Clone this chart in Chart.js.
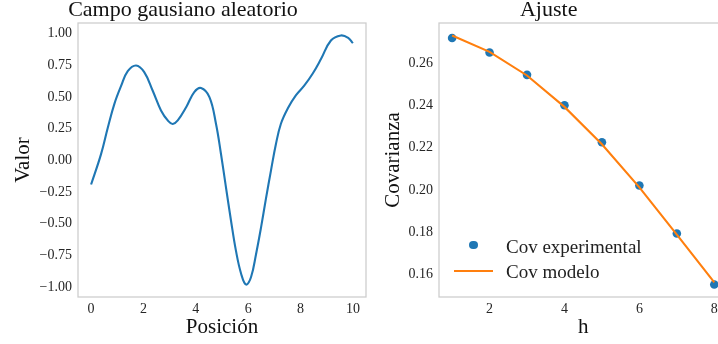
<!DOCTYPE html>
<html>
<head>
<meta charset="utf-8">
<title>Campo gausiano aleatorio / Ajuste</title>
<script src="https://cdn.jsdelivr.net/npm/chart.js@4.4.0/dist/chart.umd.min.js"></script>
<style>
  html, body { margin: 0; padding: 0; background: #fff; overflow: hidden; }
  #wrap { position: relative; width: 718px; height: 344px; overflow: hidden; }
  #leftChart { position: absolute; left: 0; top: 0; }
  #rightChart { position: absolute; left: 370px; top: 0; }
  .leg {
    position: absolute; left: 454px; padding-left: 52px;
    font-family: "Liberation Serif", "DejaVu Serif", serif;
    font-size: 19px; line-height: 25px; color: #222; white-space: nowrap;
  }
  .leg .dot {
    position: absolute; left: 15px; top: 7px; width: 8.6px; height: 8.6px;
    border-radius: 50%; background: #1f77b4;
  }
  .leg .line {
    position: absolute; left: 0; top: 11.5px; width: 39px; height: 2px;
    background: #ff7f0e;
  }
</style>
</head>
<body>
<div id="wrap">
  <canvas id="leftChart" width="380" height="344"></canvas>
  <canvas id="rightChart" width="370" height="344"></canvas>
  <div class="leg" style="top:233.5px"><span class="dot"></span>Cov experimental</div>
  <div class="leg" style="top:258.5px"><span class="line"></span>Cov modelo</div>
</div>
<script>
// campo gausiano
const posicion = [0, 0.38, 0.64, 0.89, 1.15, 1.40, 1.72, 2.03, 2.35, 2.67, 2.95, 3.12, 3.31, 3.63,
  3.94, 4.20, 4.52, 4.77, 4.96, 5.15, 5.34, 5.53, 5.73, 5.92, 6.11, 6.30, 6.49, 6.68, 6.87,
  7.06, 7.25, 7.51, 7.82, 8.14, 8.46, 8.78, 9.16, 9.54, 9.82, 10.0];
const valor = [-0.19, 0.05, 0.26, 0.447, 0.59, 0.705, 0.75, 0.697, 0.552, 0.395, 0.31, 0.288, 0.316, 0.42,
  0.54, 0.572, 0.50, 0.29, 0.053, -0.21, -0.47, -0.71, -0.894, -0.98, -0.92, -0.74, -0.53, -0.30, -0.08,
  0.13, 0.29, 0.41, 0.513, 0.59, 0.684, 0.80, 0.947, 0.987, 0.968, 0.926];
const xTicksLeft = [0, 2, 4, 6, 8, 10];
const yTicksLeft = [-1, -0.75, -0.5, -0.25, 0, 0.25, 0.5, 0.75, 1];

// ajuste de covarianza
const h = [1, 2, 3, 4, 5, 6, 7, 8];
const covExp = [0.2721, 0.2652, 0.2546, 0.2402, 0.2226, 0.2021, 0.1793, 0.1551];
const covModelo = [0.2733, 0.2655, 0.2543, 0.2394, 0.2217, 0.2012, 0.1788, 0.1561];
const xTicksRight = [2, 4, 6, 8];
const yTicksRight = [0.16, 0.18, 0.20, 0.22, 0.24, 0.26];

const SERIF = "'Liberation Serif', 'DejaVu Serif', serif";
const TEXT = "#262626";

function fmt(v) {
  return v.toFixed(2).replace("-", "\u2212");
}

// caja gris alrededor del area de datos
const frame = {
  id: "frame",
  beforeDatasetsDraw(chart) {
    const a = chart.chartArea;
    const ctx = chart.ctx;
    ctx.save();
    ctx.strokeStyle = "#cccccc";
    ctx.lineWidth = 1.25;
    ctx.strokeRect(a.left, a.top, a.right - a.left, a.bottom - a.top);
    ctx.restore();
  },
};

function xAxis(min, max, ticks, label, tickFmt) {
  return {
    type: "linear",
    min,
    max,
    grid: { display: false, drawTicks: false },
    border: { display: false },
    afterBuildTicks: (s) => {
      s.ticks = ticks.map((v) => ({ value: v }));
    },
    afterFit: (s) => {
      s.height = 47;
    },
    ticks: {
      color: TEXT,
      padding: 4,
      font: { family: SERIF, size: 14 },
      callback: tickFmt,
    },
    title: {
      display: true,
      text: label,
      color: "#111",
      padding: { top: 0, bottom: 4 },
      font: { family: SERIF, size: 21 },
    },
  };
}

function yAxis(min, max, ticks, label, width) {
  return {
    type: "linear",
    min,
    max,
    grid: { display: false, drawTicks: false },
    border: { display: false },
    afterBuildTicks: (s) => {
      s.ticks = ticks.map((v) => ({ value: v }));
    },
    afterFit: (s) => {
      s.width = width;
    },
    ticks: {
      color: TEXT,
      padding: 6,
      font: { family: SERIF, size: 14 },
      callback: (v) => fmt(v),
    },
    title: {
      display: true,
      text: label,
      color: "#111",
      padding: { top: 10.5, bottom: 0 },
      font: { family: SERIF, size: 21 },
    },
  };
}

function titleOpts(text) {
  return {
    display: true,
    text,
    color: "#111",
    padding: { top: 2, bottom: 4 },
    font: { family: SERIF, size: 22, weight: "normal", lineHeight: "17px" },
  };
}

new Chart(document.getElementById("leftChart"), {
  type: "scatter",
  data: {
    datasets: [
      {
        label: "campo",
        data: posicion.map((x, i) => ({ x, y: valor[i] })),
        showLine: true,
        borderColor: "#1f77b4",
        borderWidth: 2.1,
        pointRadius: 0,
        tension: 0.4,
      },
    ],
  },
  options: {
    responsive: false,
    animation: false,
    layout: { padding: { left: 0, right: 14, top: 0, bottom: 0 } },
    scales: {
      x: xAxis(-0.5, 10.5, xTicksLeft, "Posición", (v) => String(v)),
      y: yAxis(-1.078, 1.085, yTicksLeft, "Valor", 78),
    },
    plugins: {
      legend: { display: false },
      tooltip: { enabled: false },
      title: titleOpts("Campo gausiano aleatorio"),
    },
  },
  plugins: [frame],
});

new Chart(document.getElementById("rightChart"), {
  type: "scatter",
  data: {
    datasets: [
      {
        label: "Cov modelo",
        data: h.map((x, i) => ({ x, y: covModelo[i] })),
        showLine: true,
        borderColor: "#ff7f0e",
        borderWidth: 2.1,
        pointRadius: 0,
        order: 1,
      },
      {
        label: "Cov experimental",
        data: h.map((x, i) => ({ x, y: covExp[i] })),
        backgroundColor: "#1f77b4",
        pointRadius: 4.3,
        pointBorderWidth: 0,
        order: 2,
      },
    ],
  },
  options: {
    responsive: false,
    animation: false,
    layout: { padding: { left: 0, right: 12.6, top: 0, bottom: 0 } },
    scales: {
      x: xAxis(0.65, 8.35, xTicksRight, "h", (v) => String(v)),
      y: yAxis(0.1492, 0.2792, yTicksRight, "Covarianza", 69),
    },
    plugins: {
      legend: { display: false },
      tooltip: { enabled: false },
      title: titleOpts("Ajuste"),
    },
  },
  plugins: [frame],
});
</script>
</body>
</html>
